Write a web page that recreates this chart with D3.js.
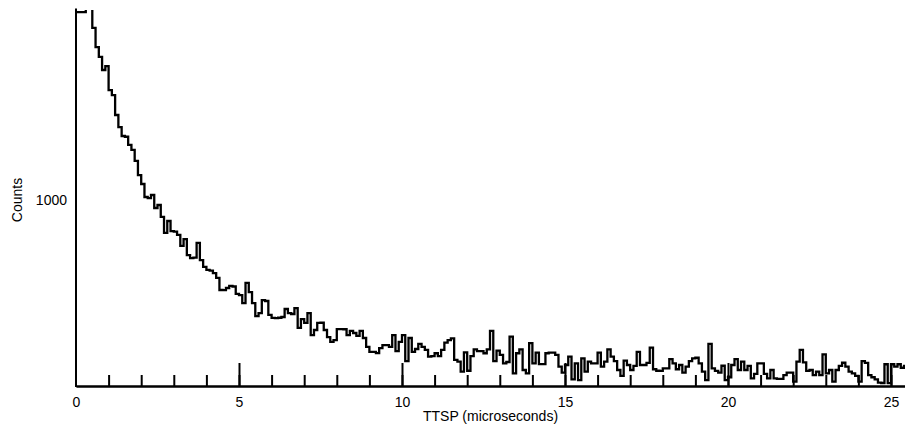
<!DOCTYPE html>
<html>
<head>
<meta charset="utf-8">
<script src="https://cdn.jsdelivr.net/npm/d3@7"></script>
<style>
  html, body { margin: 0; padding: 0; background: #fff; }
  svg { display: block; }
  text { font-family: "Liberation Sans", Arial, Helvetica, sans-serif; fill: #000; }
</style>
</head>
<body>
<svg id="chart" width="905" height="433"></svg>
<script>
// ---- data ----
const binWidth = 0.1;            // microseconds per bin
const xMax = 25.43;              // visible end of the time axis
const yMax = 2000;               // top of count axis
const yTickValues = [1000];
const xMajorTicks = [0, 5, 10, 15, 20, 25];
const xMinorTicks = d3.range(0, 26, 1);
const xLabel = "TTSP (microseconds)";
const yLabel = "Counts";

// counts per 0.1 us bin, starting at t = 0
const counts = [
  2010, 2010, 2010, 2300, 2250, 1925, 1822, 1769, 1699, 1720,
  1591, 1564, 1457, 1392, 1344, 1340, 1296, 1269, 1210, 1134,
  1086, 1016, 1010, 1027, 957, 973, 909, 823, 887, 833,
  830, 812, 753, 790, 704, 688, 690, 769, 677, 640,
  624, 620, 607, 581, 516, 515, 527, 538, 535, 495,
  489, 446, 554, 505, 446, 376, 392, 462, 457, 382,
  366, 365, 367, 371, 414, 392, 387, 419, 312, 360,
  339, 392, 274, 301, 339, 340, 301, 263, 237, 247,
  306, 306, 305, 274, 296, 285, 269, 296, 258, 210,
  183, 183, 177, 204, 220, 220, 210, 274, 188, 237,
  274, 134, 258, 183, 199, 226, 210, 194, 158, 161,
  176, 161, 194, 233, 247, 256, 140, 131, 77, 181,
  82, 161, 197, 188, 188, 176, 197, 296, 134, 190,
  167, 122, 129, 265, 68, 176, 197, 86, 68, 230,
  122, 179, 118, 118, 176, 179, 179, 167, 104, 72,
  113, 158, 36, 122, 32, 149, 77, 131, 122, 122,
  179, 104, 131, 197, 158, 134, 86, 54, 136, 113,
  86, 108, 184, 113, 113, 124, 206, 90, 82, 81,
  95, 95, 145, 122, 90, 113, 72, 104, 134, 149,
  152, 122, 77, 32, 226, 95, 81, 72, 109, 32,
  47, 113, 145, 86, 131, 86, 108, 41, 65, 122,
  122, 65, 41, 86, 41, 38, 38, 59, 72, 72,
  23, 131, 194, 127, 81, 86, 59, 77, 59, 170,
  68, 86, 23, 86, 108, 125, 104, 77, 68, 54,
  23, 134, 124, 59, 47, 36, 18, 16, 117, 15,
  117, 104, 117, 98, 108
];

// ---- chart ----
const svg = d3.select("#chart");
const x = d3.scaleLinear().domain([0, xMax]).range([76, 905]);
const y = d3.scaleLinear().domain([0, yMax]).range([386, 14]);

svg.append("defs").append("clipPath").attr("id", "plotclip")
  .append("rect").attr("x", 76).attr("y", 10).attr("width", 829).attr("height", 380);

const pts = counts.map((c, i) => [i * binWidth, c]);
pts.push([counts.length * binWidth, counts[counts.length - 1]]);

const line = d3.line()
  .x(d => x(d[0]))
  .y(d => y(d[1]))
  .curve(d3.curveStepAfter);

svg.append("path")
  .datum(pts)
  .attr("clip-path", "url(#plotclip)")
  .attr("d", line)
  .attr("fill", "none")
  .attr("stroke", "#000")
  .attr("stroke-width", 2.3)
  .attr("stroke-linejoin", "miter")
  .attr("stroke-linecap", "square");

// x axis: minor ticks
const xMinor = d3.axisBottom(x).tickValues(xMinorTicks).tickSizeInner(-11).tickSizeOuter(0).tickFormat("");
const gMinor = svg.append("g").attr("transform", "translate(0,386)").call(xMinor);
// x axis: major ticks with labels
const xMajor = d3.axisBottom(x).tickValues(xMajorTicks).tickSizeInner(-23).tickSizeOuter(0).tickPadding(11).tickFormat(d3.format("d"));
const gMajor = svg.append("g").attr("transform", "translate(0,386)").call(xMajor);
[gMinor, gMajor].forEach(g => {
  g.selectAll("path.domain").attr("stroke", "#000").attr("stroke-width", 2);
  g.selectAll(".tick line").attr("stroke", "#000").attr("stroke-width", 2);
  g.selectAll(".tick text").attr("font-size", 14).attr("font-family", "'Liberation Sans', Arial, sans-serif");
});
gMajor.selectAll(".tick").filter(d => d === 0).select("line").remove();
gMinor.selectAll(".tick").filter(d => d === 0).select("line").remove();

// y axis
const yAxis = d3.axisLeft(y).tickValues(yTickValues).tickSize(0).tickPadding(9).tickFormat(d3.format("d"));
const gY = svg.append("g").attr("transform", "translate(76,0)").call(yAxis);
gY.select("path.domain").remove();
gY.selectAll(".tick text").attr("font-size", 14).attr("font-family", "'Liberation Sans', Arial, sans-serif");
svg.append("line")
  .attr("x1", x(0)).attr("x2", x(0))
  .attr("y1", y(0) + 1).attr("y2", y(2030))
  .attr("stroke", "#000").attr("stroke-width", 2);

// labels
svg.append("text")
  .attr("x", (x.range()[0] + x.range()[1]) / 2)
  .attr("y", 421)
  .attr("text-anchor", "middle")
  .attr("font-size", 14)
  .text(xLabel);

svg.append("text")
  .attr("transform", `translate(22,${y(1000)}) rotate(-90)`)
  .attr("text-anchor", "middle")
  .attr("font-size", 14)
  .text(yLabel);
</script>
</body>
</html>
